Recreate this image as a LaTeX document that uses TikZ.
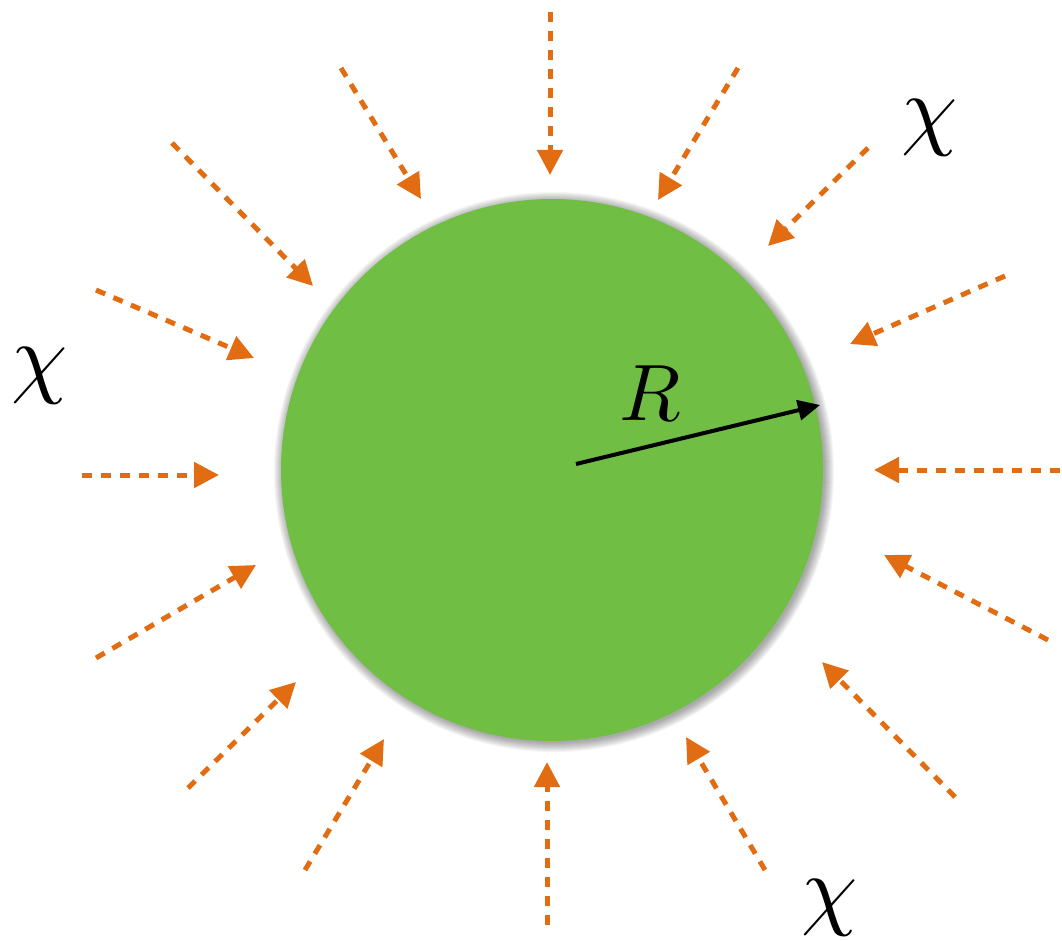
\documentclass[tikz,border=0pt]{standalone}
\usepackage{graphicx}
\usetikzlibrary{arrows.meta}

\definecolor{ballgreen}{RGB}{113,190,68}
\definecolor{fluxorange}{RGB}{226,108,18}

\newcommand{\bigsym}[2]{\scalebox{#1}{$#2$}}

\begin{document}
\begin{tikzpicture}[
  x=1pt, y=-1pt,
  ball/.style={circle, fill=ballgreen, minimum size=542pt, inner sep=0pt},
  halo/.style={fill=black, opacity=0.04},
  flux/.style={draw=fluxorange, line width=5pt, dash pattern=on 10pt off 9pt,
    -{Triangle[length=25pt, width=25pt, fill=fluxorange]}},
  radarrow/.style={line width=4pt, -{Triangle[length=22pt, width=20pt]}},
  symlabel/.style={inner sep=0pt}
]
\useasboundingbox (0,0) rectangle (1062,941);

% SHADOW
\foreach \r in {271,272,...,280}
  \fill[halo] (554,472) circle[radius=\r pt];

% NODES
\node[ball] (sphere) at (552,470) {};
\coordinate (centre) at (576,464);
\coordinate (rim) at (820,405);

% INFLOW
\foreach \i/\sx/\sy/\ex/\ey in {
  1/550/12/550/175, 2/738/68/658/200, 3/868/148/768/246, 4/1005/276/850/344,
  5/1060/470/874/470, 6/1048/640/884/555, 7/955/797/822/662, 8/765/870/686/737,
  9/547/925/547/762, 10/305/870/384/739, 11/188/788/296/682, 12/96/658/256/565,
  13/82/475/219/475, 14/96/290/254/358, 15/172/143/313/286, 16/341/68/421/199}
{
  \coordinate (s\i) at (\sx,\sy);
  \coordinate (e\i) at (\ex,\ey);
  \draw[flux] (s\i) -- (e\i);
}

% RADIUS
\draw[radarrow] (centre) -- (rim);

% LABELS
\node[symlabel] (rad) at (650,393) {\bigsym{8}{R}};
\node[symlabel] (chiA) at (930,128) {\bigsym{9}{\chi}};
\node[symlabel] (chiB) at (40,376) {\bigsym{9}{\chi}};
\node[symlabel] (chiC) at (830,908) {\bigsym{9}{\chi}};

\end{tikzpicture}
\end{document}
